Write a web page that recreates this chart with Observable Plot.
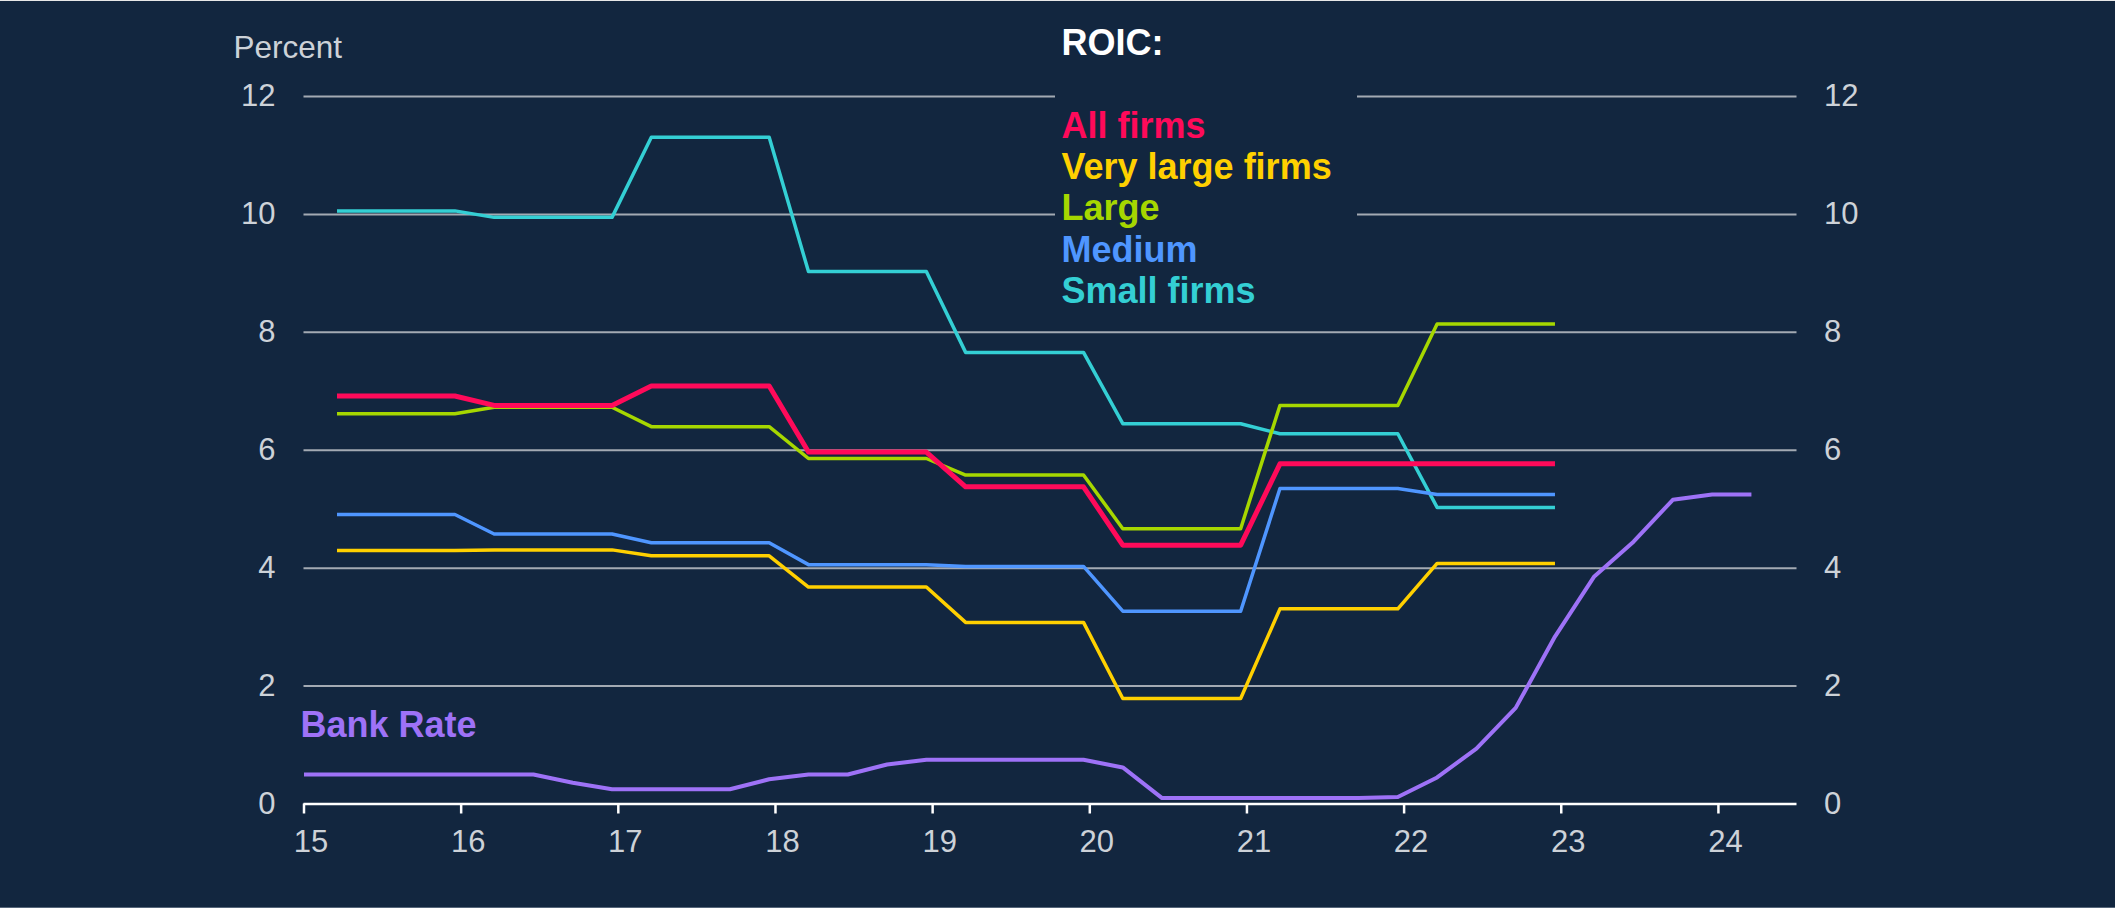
<!DOCTYPE html>
<html>
<head>
<meta charset="utf-8">
<script src="https://cdn.jsdelivr.net/npm/d3@7"></script>
<script src="https://cdn.jsdelivr.net/npm/@observablehq/plot@0.6"></script>
<style>
  html, body { margin: 0; padding: 0; background: #12263f; }
  #wrap {
    position: relative; width: 2115px; height: 906px;
    background: #12263f;
    border-top: 1px solid #e8e8e8;
    border-bottom: 1px solid #56667a;
    font-family: "Liberation Sans", Arial, sans-serif;
    overflow: hidden;
  }
  #wrap svg { display: block; }
  .unit {
    position: absolute; left: 233.5px; top: 30.5px;
    font-size: 31.5px; line-height: 31.5px; color: #cdd2d8; white-space: nowrap;
  }
  .legend {
    position: absolute; left: 1055px; top: 20.8px; width: 295px;
    padding-left: 6.5px; background: #12263f;
    font-size: 36px; line-height: 41.4px; font-weight: bold; white-space: nowrap;
  }
  .bank {
    position: absolute; left: 300.5px; top: 702.8px;
    font-size: 36px; line-height: 41.4px; font-weight: bold; color: #9e72f7; white-space: nowrap;
  }
</style>
</head>
<body>
<div id="wrap"></div>
<script>
// ---- Data ----
const xTicks = [15, 16, 17, 18, 19, 20, 21, 22, 23, 24];
const yTicks = [0, 2, 4, 6, 8, 10, 12];
const gridTicks = [2, 4, 6, 8, 10, 12];

// ROIC series: one flat value per year, plotted from the first to the last quarter of each year
const roicX = [15.21, 15.96, 16.21, 16.96, 17.21, 17.96, 18.21, 18.96,
               19.21, 19.96, 20.21, 20.96, 21.21, 21.96, 22.21, 22.96];
const allFirms   = [6.92, 6.92, 6.76, 6.76, 7.09, 7.09, 5.97, 5.97, 5.38, 5.38, 4.39, 4.39, 5.77, 5.77, 5.77, 5.77];
const veryLarge  = [4.30, 4.30, 4.31, 4.31, 4.21, 4.21, 3.68, 3.68, 3.08, 3.08, 1.79, 1.79, 3.31, 3.31, 4.08, 4.08];
const large      = [6.62, 6.62, 6.73, 6.73, 6.40, 6.40, 5.86, 5.86, 5.58, 5.58, 4.67, 4.67, 6.76, 6.76, 8.14, 8.14];
const medium     = [4.91, 4.91, 4.58, 4.58, 4.43, 4.43, 4.06, 4.06, 4.03, 4.03, 3.27, 3.27, 5.35, 5.35, 5.25, 5.25];
const smallFirms = [10.06, 10.06, 9.95, 9.95, 11.31, 11.31, 9.03, 9.03, 7.66, 7.66, 6.45, 6.45, 6.28, 6.28, 5.03, 5.03];

// Bank Rate, quarterly
const bankX = [15.00, 15.21, 15.46, 15.71, 15.96, 16.21, 16.46, 16.71, 16.96,
               17.21, 17.46, 17.71, 17.96, 18.21, 18.46, 18.71, 18.96,
               19.21, 19.46, 19.71, 19.96, 20.21, 20.46, 20.71, 20.96,
               21.21, 21.46, 21.71, 21.96, 22.21, 22.46, 22.71, 22.96,
               23.21, 23.46, 23.71, 23.96, 24.21];
const bankRate = [0.50, 0.50, 0.50, 0.50, 0.50, 0.50, 0.50, 0.36, 0.25,
                  0.25, 0.25, 0.25, 0.42, 0.50, 0.50, 0.67, 0.75,
                  0.75, 0.75, 0.75, 0.75, 0.62, 0.10, 0.10, 0.10,
                  0.10, 0.10, 0.10, 0.12, 0.45, 0.94, 1.63, 2.84,
                  3.86, 4.45, 5.16, 5.25, 5.25];

const seriesNames = ["All firms", "Very large firms", "Large", "Medium", "Small firms"];

// ---- Styles ----
const BG = "#12263f";
const colors = {
  "All firms": "#ff0a5a",
  "Very large firms": "#ffd000",
  "Large": "#a6d700",
  "Medium": "#4f96ff",
  "Small firms": "#34cfd4",
  "Bank Rate": "#9e72f7"
};

const toRows = (xs, ys) => xs.map((x, i) => ({x, y: ys[i]}));
const rows = {
  "All firms": toRows(roicX, allFirms),
  "Very large firms": toRows(roicX, veryLarge),
  "Large": toRows(roicX, large),
  "Medium": toRows(roicX, medium),
  "Small firms": toRows(roicX, smallFirms)
};
const bankRows = toRows(bankX, bankRate);

const lineOpts = (name, w) => ({x: "x", y: "y", stroke: colors[name], strokeWidth: w,
  strokeLinecap: "butt", strokeLinejoin: "round"});

const chart = Plot.plot({
  width: 2115,
  height: 906,
  marginLeft: 303.5,
  marginRight: 318.5,
  marginTop: 95,
  marginBottom: 103.5,
  x: {type: "linear", domain: [15, 24.5]},
  y: {domain: [0, 12]},
  style: {
    background: BG,
    color: "#cdd2d8",
    fontFamily: "'Liberation Sans', Arial, sans-serif",
    fontSize: "31px",
    overflow: "visible"
  },
  marks: [
    Plot.ruleY(gridTicks, {stroke: "#a3aab3", strokeWidth: 2}),
    Plot.axisY({anchor: "left", ticks: yTicks, tickSize: 0, tickPadding: 28.5, label: null, tickFormat: d => d}),
    Plot.axisY({anchor: "right", ticks: yTicks, tickSize: 0, tickPadding: 27, label: null, tickFormat: d => d}),
    Plot.axisX({ticks: xTicks, tickSize: 10, stroke: "#ffffff", strokeWidth: 2.5, fill: "none", label: null}),
    Plot.axisX({ticks: xTicks, tickSize: 0, tickPadding: 26, dx: 7, label: null, tickFormat: d => d}),
    Plot.ruleY([0], {stroke: "#ffffff", strokeWidth: 2.5}),
    Plot.line(rows["Small firms"], lineOpts("Small firms", 3.5)),
    Plot.line(rows["Medium"], lineOpts("Medium", 3.5)),
    Plot.line(rows["Large"], lineOpts("Large", 3.5)),
    Plot.line(rows["Very large firms"], lineOpts("Very large firms", 3.5)),
    Plot.line(rows["All firms"], lineOpts("All firms", 5)),
    Plot.line(bankRows, lineOpts("Bank Rate", 4))
  ]
});

const wrap = document.getElementById("wrap");
wrap.appendChild(chart);

const unit = document.createElement("div");
unit.className = "unit";
unit.textContent = "Percent";
wrap.appendChild(unit);

const legend = document.createElement("div");
legend.className = "legend";
const head = document.createElement("div");
head.textContent = "ROIC:";
head.style.color = "#ffffff";
legend.appendChild(head);
const blank = document.createElement("div");
blank.innerHTML = "&nbsp;";
legend.appendChild(blank);
for (const name of seriesNames) {
  const d = document.createElement("div");
  d.textContent = name;
  d.style.color = colors[name];
  legend.appendChild(d);
}
wrap.appendChild(legend);

const bank = document.createElement("div");
bank.className = "bank";
bank.textContent = "Bank Rate";
wrap.appendChild(bank);
</script>
</body>
</html>
